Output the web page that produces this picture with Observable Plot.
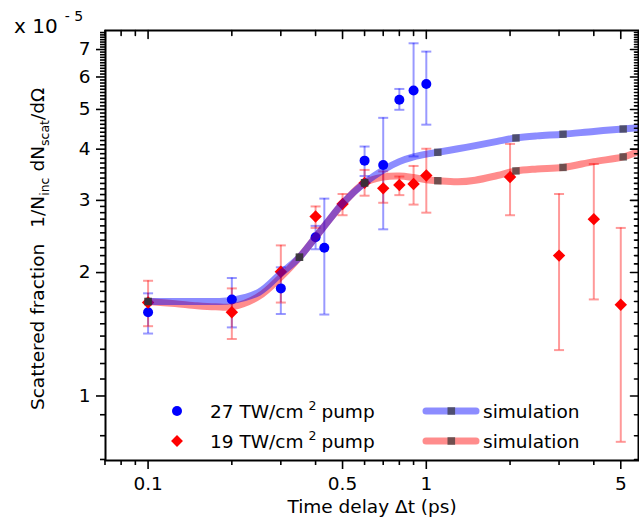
<!DOCTYPE html>
<html><head><meta charset="utf-8">
<script src="https://cdn.jsdelivr.net/npm/d3@7"></script>
<script src="https://cdn.jsdelivr.net/npm/@observablehq/plot@0.6"></script>
<style>
body{margin:0;background:#fff;}
#chart svg{display:block}
</style>
</head><body><div id="chart"></div>
<script>
// ---- data (values in units of 1e-5) ----
const blueT  = [0.1, 0.2, 0.3, 0.4, 0.43, 0.6, 0.7, 0.8, 0.9, 1.0];
const blueV  = [1.60, 1.72, 1.83, 2.44, 2.30, 3.75, 3.66, 5.28, 5.56, 5.77];
const blueLo = [1.42, 1.47, 1.585, 2.28, 1.58, 3.44, 2.55, 4.99, 3.84, 4.59];
const blueHi = [1.78, 1.94, 2.06, 2.60, 3.03, 4.06, 4.77, 5.61, 7.25, 6.92];

const redT  = [0.1, 0.2, 0.3, 0.4, 0.5, 0.6, 0.7, 0.8, 0.9, 1.0, 2, 3, 4, 5];
const redV  = [1.69, 1.60, 2.01, 2.74, 2.94, 3.31, 3.21, 3.27, 3.29, 3.45, 3.42, 2.20, 2.70, 1.67];
const redLo = [1.48, 1.377, 1.69, 2.57, 2.76, 3.08, 2.96, 3.09, 2.93, 2.80, 2.76, 1.294, 1.72, 0.773];
const redHi = [1.91, 1.83, 2.33, 2.90, 3.11, 3.56, 3.53, 3.43, 3.64, 4.01, 4.12, 3.11, 3.68, 2.57];

const simT    = [0.1, 0.125, 0.15, 0.175, 0.2, 0.25, 0.3, 0.35, 0.4, 0.45, 0.5, 0.6, 0.7, 0.8, 0.9, 1.0, 1.1, 1.3, 1.5, 1.8, 2.1, 2.5, 3.1, 4, 5.1, 5.79];
const simBlue = [1.70, 1.70, 1.70, 1.70, 1.71, 1.79, 1.99, 2.18, 2.44, 2.70, 2.95, 3.31, 3.56, 3.73, 3.83, 3.89, 3.93, 4.01, 4.08, 4.18, 4.26, 4.31, 4.35, 4.42, 4.48, 4.51];
const simRed  = [1.70, 1.68, 1.66, 1.65, 1.65, 1.75, 1.95, 2.18, 2.44, 2.70, 2.94, 3.31, 3.42, 3.44, 3.41, 3.37, 3.35, 3.33, 3.36, 3.45, 3.54, 3.58, 3.61, 3.73, 3.83, 3.95];

const markT    = [0.1, 0.35, 0.6, 1.1, 2.1, 3.1, 5.1];
const markBlue = [1.70, 2.18, 3.31, 3.93, 4.26, 4.35, 4.48];
const markRed  = [1.70, 2.18, 3.31, 3.35, 3.54, 3.61, 3.83];

const xMajor = [0.1, 0.5, 1, 5];
const xMinor = [0.07, 0.08, 0.09, 0.2, 0.3, 0.4, 0.6, 0.7, 0.8, 0.9, 2, 3, 4];
const yMajor = [1, 2, 3, 4, 5, 6, 7];
const yMinorList = [0.7,0.8,0.9,1.1,1.2,1.3,1.4,1.5,1.6,1.7,1.8,1.9,2.1,2.2,2.3,2.4,2.5,2.6,2.7,2.8,2.9,3.1,3.2,3.3,3.4,3.5,3.6,3.7,3.8,3.9,4.1,4.2,4.3,4.4,4.5,4.6,4.7,4.8,4.9,5.1,5.2,5.3,5.4,5.5,5.6,5.7,5.8,5.9,6.1,6.2,6.3,6.4,6.5,6.6,6.7,6.8,6.9,7.1,7.2,7.3,7.4,7.5,7.6,7.7];

const legendLabels = ["27 TW/cm", "19 TW/cm"];
const simLabel = "simulation";

// ---- tables ----
const blue = blueT.map((t,i)=>({t, v:blueV[i], lo:blueLo[i], hi:blueHi[i]}));
const red  = redT.map((t,i)=>({t, v:redV[i], lo:redLo[i], hi:redHi[i]}));
const simB = simT.map((t,i)=>({t, v:simBlue[i]}));
const simR = simT.map((t,i)=>({t, v:simRed[i]}));
const mB = markT.map((t,i)=>({t, v:markBlue[i]}));
const mR = markT.map((t,i)=>({t, v:markRed[i]}));

const capSym = {draw(c, size){ const w = Math.sqrt(size/Math.PI); c.moveTo(-w,0); c.lineTo(w,0); }};
const tickShape = {draw(c, l){ c.moveTo(0,0); c.lineTo(0,-l); }};

const BLUE = "#0000ff", RED = "#ff0000";
const font = "DejaVu Sans, Liberation Sans, Arial, sans-serif";
const FS = 18.5;

const chart = Plot.plot({
  width: 639, height: 524,
  marginLeft: 105, marginTop: 30, marginRight: 1, marginBottom: 64,
  style: {fontFamily: font, fontSize: FS + "px", color: "black", background: "white", overflow: "visible"},
  x: {type: "log", domain: [0.0703, 5.79]},
  y: {type: "log", domain: [0.696, 7.79]},
  marks: [
    // error bars
    Plot.ruleX(blue, {x:"t", y1:"lo", y2:"hi", stroke: BLUE, strokeOpacity: 0.4, strokeWidth: 2}),
    Plot.dot(blue, {x:"t", y:"lo", symbol: capSym, r: 5, stroke: BLUE, strokeOpacity: 0.4, strokeWidth: 2}),
    Plot.dot(blue, {x:"t", y:"hi", symbol: capSym, r: 5, stroke: BLUE, strokeOpacity: 0.4, strokeWidth: 2}),
    Plot.ruleX(red, {x:"t", y1:"lo", y2:"hi", stroke: RED, strokeOpacity: 0.4, strokeWidth: 2}),
    Plot.dot(red, {x:"t", y:"lo", symbol: capSym, r: 5, stroke: RED, strokeOpacity: 0.4, strokeWidth: 2}),
    Plot.dot(red, {x:"t", y:"hi", symbol: capSym, r: 5, stroke: RED, strokeOpacity: 0.4, strokeWidth: 2}),
    // points
    Plot.dot(blue, {x:"t", y:"v", r: 5, fill: BLUE}),
    Plot.dot(red, {x:"t", y:"v", r: 5.6, symbol: "diamond2", fill: RED}),
    // simulations
    Plot.line(simR, {x:"t", y:"v", stroke: RED, strokeOpacity: 0.45, strokeWidth: 7, curve: "catmull-rom"}),
    Plot.line(simB, {x:"t", y:"v", stroke: BLUE, strokeOpacity: 0.45, strokeWidth: 7, curve: "catmull-rom"}),
    Plot.dot(mR, {x:"t", y:"v", symbol: "square", r: 4.2, fill: "#333", fillOpacity: 0.7}),
    Plot.dot(mB, {x:"t", y:"v", symbol: "square", r: 4.2, fill: "#333", fillOpacity: 0.7}),
    // axes
    Plot.axisX({ticks: xMajor, tickSize: 9, tickPadding: 7, tickFormat: d => String(d), label: null, strokeWidth: 1.6, fontSize: FS}),
    Plot.axisX({ticks: xMinor, tickSize: 5, tickFormat: () => "", label: null, strokeWidth: 1.6}),
    Plot.axisY({ticks: yMajor, tickSize: 9, tickPadding: 6, tickFormat: d => String(d), label: null, strokeWidth: 1.6, fontSize: FS}),
    Plot.axisY({ticks: yMinorList, tickSize: 5, tickFormat: () => "", label: null, strokeWidth: 1.6}),
    // inward ticks on top and right
    Plot.vector(xMajor, {x: d => d, frameAnchor: "top", length: 8, rotate: 180, anchor: "start", shape: tickShape, stroke: "black", strokeWidth: 1.6}),
    Plot.vector(xMinor, {x: d => d, frameAnchor: "top", length: 5, rotate: 180, anchor: "start", shape: tickShape, stroke: "black", strokeWidth: 1.6}),
    Plot.vector(yMajor, {y: d => d, frameAnchor: "right", length: 8, rotate: -90, anchor: "start", shape: tickShape, stroke: "black", strokeWidth: 1.6}),
    Plot.vector(yMinorList, {y: d => d, frameAnchor: "right", length: 4, rotate: -90, anchor: "start", shape: tickShape, stroke: "black", strokeWidth: 1.6}),
    Plot.frame({stroke: "black", strokeWidth: 2}),
    Plot.text(["Time delay \u0394t (ps)"], {frameAnchor: "bottom", dy: 52, fontSize: FS, fill: "black"})
  ]
});

document.getElementById("chart").appendChild(chart);

// ---- extra text: multiplier, y title, legend ----
const svg = d3.select(chart);
const g = svg.append("g").attr("font-family", font).attr("fill", "black").attr("text-anchor", "start");

// multiplier
const mult = g.append("text").attr("x", 14).attr("y", 33).attr("font-size", 20);
mult.append("tspan").text("x 10");
mult.append("tspan").attr("dx", 7).attr("dy", -12).attr("font-size", 14).text("- 5");

// y title
const yt = g.append("text").attr("transform", "translate(44,249) rotate(-90)")
  .attr("text-anchor", "middle").attr("font-size", FS);
yt.append("tspan").text("Scattered fraction");
yt.append("tspan").attr("dx", 16).text("1/N");
yt.append("tspan").attr("dy", 5).attr("font-size", 12.5).text("inc");
yt.append("tspan").attr("dy", -5).attr("dx", 6).text("dN");
yt.append("tspan").attr("dy", 5).attr("font-size", 12.5).text("scat");
yt.append("tspan").attr("dy", -5).text("/d\u03A9");

// legend
const rows = [
  {y: 411, color: BLUE, sym: "circle", label: legendLabels[0]},
  {y: 441, color: RED, sym: "diamond", label: legendLabels[1]}
];
rows.forEach(r => {
  if (r.sym === "circle") {
    g.append("circle").attr("cx", 177).attr("cy", r.y).attr("r", 5).attr("fill", r.color);
  } else {
    g.append("path").attr("d", d3.symbol(d3.symbolDiamond2, 90)()).attr("transform", `translate(177,${r.y})`).attr("fill", r.color);
  }
  const t = g.append("text").attr("x", 210).attr("y", r.y + 6.5).attr("font-size", FS);
  t.append("tspan").text(r.label);
  t.append("tspan").attr("dx", 5).attr("dy", -8).attr("font-size", 12.5).text("2");
  t.append("tspan").attr("dx", 5).attr("dy", 8).text("pump");
  g.append("line").attr("x1", 426).attr("x2", 476).attr("y1", r.y).attr("y2", r.y)
    .attr("stroke", r.color).attr("stroke-opacity", 0.45).attr("stroke-width", 7).attr("stroke-linecap", "round");
  g.append("rect").attr("x", 447.5).attr("y", r.y - 3.8).attr("width", 7.6).attr("height", 7.6).attr("fill", "#333").attr("fill-opacity", 0.7);
  g.append("text").attr("x", 483).attr("y", r.y + 6.5).attr("font-size", FS).text(simLabel);
});
</script>
</body></html>
